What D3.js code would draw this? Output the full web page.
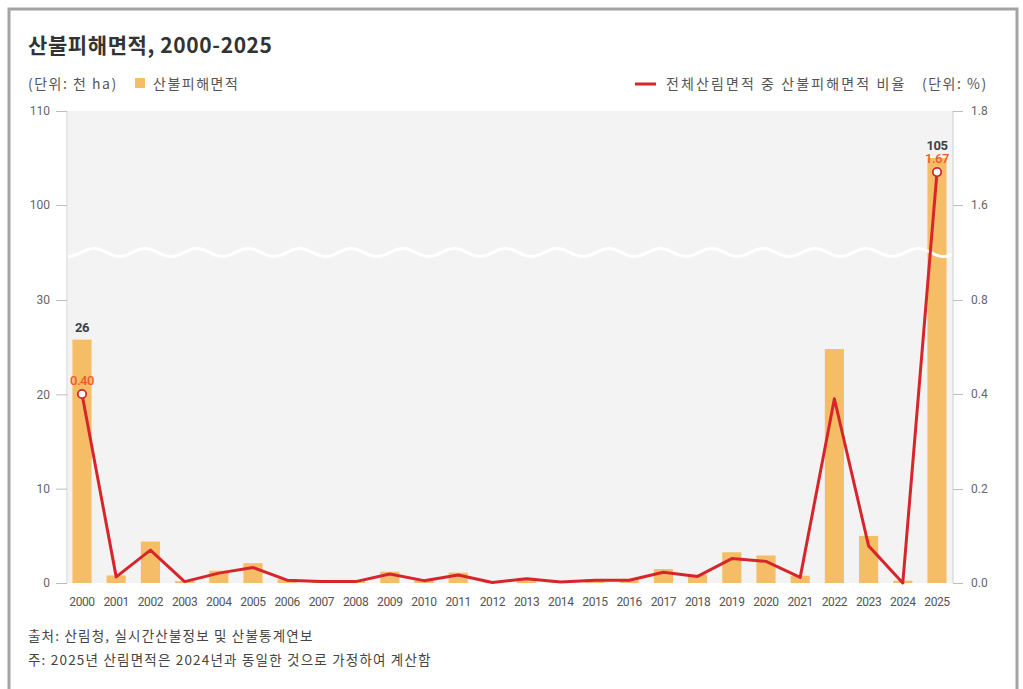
<!DOCTYPE html>
<html>
<head>
<meta charset="utf-8">
<script src="https://cdn.jsdelivr.net/npm/d3@7"></script>
<style>
  html, body { margin: 0; padding: 0; background: #fff; }
  svg { display: block; }
  text { font-family: "Noto Sans CJK KR", "Noto Sans", sans-serif; }
  .num { font-family: Roboto, "Noto Sans", sans-serif; }
</style>
</head>
<body>
<svg id="chart" width="1023" height="689"></svg>
<script>
// Wildfire damaged area (thousand ha) and its share of total forest area (%)
const years = ["2000","2001","2002","2003","2004","2005","2006","2007","2008","2009",
               "2010","2011","2012","2013","2014","2015","2016","2017","2018","2019",
               "2020","2021","2022","2023","2024","2025"];
const areaValues = [25.8, 0.8, 4.4, 0.2, 1.3, 2.1, 0.4, 0.2, 0.2, 1.2,
                    0.3, 1.1, 0.07, 0.55, 0.14, 0.4, 0.38, 1.48, 0.89, 3.26,
                    2.92, 0.77, 24.8, 4.99, 0.24, 105];
const ratioValues = [0.40, 0.013, 0.07, 0.003, 0.021, 0.033, 0.006, 0.003, 0.003, 0.019,
                     0.005, 0.017, 0.001, 0.009, 0.002, 0.006, 0.006, 0.023, 0.014, 0.052,
                     0.046, 0.012, 0.39, 0.079, 0.0, 1.67];
const leftTicks = [0, 10, 20, 30, 100, 110];
const rightTicks = [0.0, 0.2, 0.4, 0.8, 1.6, 1.8];
const areaLabels = [{ year: "2000", text: "26" }, { year: "2025", text: "105" }];
const ratioLabels = [{ year: "2000", text: "0.40" }, { year: "2025", text: "1.67" }];

const svg = d3.select("#chart");

const plot = { left: 68, right: 953, top: 111, bottom: 583 };

// Broken axes: the stretch between the lower and upper segments is compressed
const yLeft = d3.scaleLinear().domain([0, 30, 100, 110]).range([583, 300, 205, 111]);
const yRight = d3.scaleLinear().domain([0, 0.2, 0.4, 0.8, 1.6, 1.8]).range([583, 489, 394, 300, 205, 111]);
const x = d3.scaleBand().domain(years).range([64.9, 954.1]).paddingInner(0.44).paddingOuter(0.22);

// outer frame
svg.append("rect").attr("x", 9).attr("y", 9).attr("width", 1008).attr("height", 700)
  .attr("fill", "none").attr("stroke", "#a3a3a3").attr("stroke-width", 3);

// title
svg.append("text").attr("x", 28).attr("y", 53).text("산불피해면적, 2000-2025")
  .attr("font-size", 21).attr("font-weight", 700).attr("fill", "#333").attr("letter-spacing", 0.6);

// legend row
const legendText = (x0, y0, s, ls) => svg.append("text").attr("x", x0).attr("y", y0).text(s)
  .attr("font-size", 14).attr("fill", "#555").attr("letter-spacing", ls);
legendText(28, 89, "(단위: 천 ha)", 1.5);
svg.append("rect").attr("x", 135).attr("y", 78).attr("width", 10).attr("height", 10).attr("fill", "#f6bd67");
legendText(153, 89, "산불피해면적", 1.5);

svg.append("line").attr("x1", 635).attr("x2", 656).attr("y1", 84).attr("y2", 84)
  .attr("stroke", "#d7262b").attr("stroke-width", 3);
legendText(666, 89, "전체산림면적 중 산불피해면적 비율", 2.1);
legendText(922, 89, "(단위: %)", 1.5);

// plot background
svg.append("rect").attr("x", plot.left).attr("y", plot.top)
  .attr("width", plot.right - plot.left).attr("height", plot.bottom - plot.top)
  .attr("fill", "#f3f3f3");

// left axis
const gL = svg.append("g").attr("transform", `translate(${plot.left - 1},0)`)
  .call(d3.axisLeft(yLeft).tickValues(leftTicks).tickSize(11).tickPadding(6).tickFormat(d3.format("d")));
gL.select(".domain").attr("stroke", "#cfcfcf").attr("d", `M0,${plot.top}V${plot.bottom}`);
gL.selectAll(".tick line").attr("stroke", "#bdbdbd");
gL.selectAll(".tick text").attr("class", "num").attr("font-size", 12).attr("fill", "#666");

// right axis
const gR = svg.append("g").attr("transform", `translate(${plot.right},0)`)
  .call(d3.axisRight(yRight).tickValues(rightTicks).tickSize(10).tickPadding(8).tickFormat(d3.format(".1f")));
gR.select(".domain").attr("stroke", "#cfcfcf").attr("d", `M0,${plot.top}V${plot.bottom}`);
gR.selectAll(".tick line").attr("stroke", "#bdbdbd");
gR.selectAll(".tick text").attr("class", "num").attr("font-size", 12).attr("fill", "#666");

// x axis labels
const gX = svg.append("g").attr("transform", `translate(0,${plot.bottom})`)
  .call(d3.axisBottom(x).tickSize(0).tickPadding(14));
gX.select(".domain").remove();
gX.selectAll(".tick text").attr("class", "num").attr("font-size", 12).attr("fill", "#555")
  .attr("letter-spacing", -0.4);

// bars
svg.append("g").selectAll("rect").data(years).join("rect")
  .attr("x", d => x(d))
  .attr("width", x.bandwidth())
  .attr("y", (d, i) => yLeft(areaValues[i]))
  .attr("height", (d, i) => yLeft(0) - yLeft(areaValues[i]))
  .attr("fill", "#f6bd67");

// axis break: white wave across the plot
const waveY = (yLeft(30) + yLeft(100)) / 2;
const wavePts = d3.range(plot.left, plot.right + 1, 2).map(px =>
  [px, waveY + 4 * Math.cos((px - plot.left) / 51.5 * 2 * Math.PI)]);
svg.append("path").attr("d", d3.line().curve(d3.curveBasis)(wavePts))
  .attr("fill", "none").attr("stroke", "#fff").attr("stroke-width", 3);

// ratio line
const cx = d => x(d) + x.bandwidth() / 2;
svg.append("path").datum(years)
  .attr("d", d3.line().x(d => cx(d)).y((d, i) => yRight(ratioValues[i])))
  .attr("fill", "none").attr("stroke", "#d7262b").attr("stroke-width", 3)
  .attr("stroke-linejoin", "round");

// highlighted points
ratioLabels.forEach(l => {
  const i = years.indexOf(l.year);
  svg.append("circle").attr("cx", cx(l.year)).attr("cy", yRight(ratioValues[i])).attr("r", 4.2)
    .attr("fill", "#fff").attr("stroke", "#d7262b").attr("stroke-width", 1.8);
  svg.append("text").attr("class", "num").attr("x", cx(l.year)).attr("y", yRight(ratioValues[i]) - 9)
    .attr("text-anchor", "middle").text(l.text)
    .attr("font-size", 13).attr("font-weight", 500).attr("fill", "#ec5a2c").attr("letter-spacing", -0.5);
});
areaLabels.forEach(l => {
  const i = years.indexOf(l.year);
  svg.append("text").attr("class", "num").attr("x", cx(l.year)).attr("y", yLeft(areaValues[i]) - 8)
    .attr("text-anchor", "middle").text(l.text)
    .attr("font-size", 13).attr("font-weight", 700).attr("fill", "#3a3f4a").attr("letter-spacing", -0.5);
});

// notes
const note = (y0, s) => svg.append("text").attr("x", 28).attr("y", y0).text(s)
  .attr("font-size", 13.5).attr("fill", "#444").attr("letter-spacing", 1.2);
note(641, "출처: 산림청, 실시간산불정보 및 산불통계연보");
note(665, "주: 2025년 산림면적은 2024년과 동일한 것으로 가정하여 계산함");
</script>
</body>
</html>
